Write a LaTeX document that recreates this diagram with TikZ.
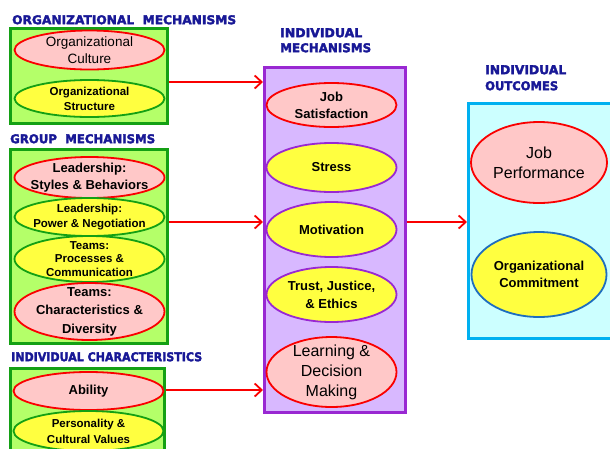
\documentclass[tikz,border=0pt]{standalone}
\usepackage{fontspec}
\setmainfont{Liberation Sans}
\newfontfamily\headfont{DejaVu Sans Bold}[FakeBold=2.5]
\usetikzlibrary{shapes.geometric,arrows.meta}
\definecolor{boxgreen}{RGB}{180,255,105}
\definecolor{edgegreen}{RGB}{20,160,20}
\definecolor{pinkfill}{RGB}{255,200,200}
\definecolor{edgered}{RGB}{250,0,0}
\definecolor{yelfill}{RGB}{255,255,64}
\definecolor{purpfill}{RGB}{216,184,255}
\definecolor{edgepurp}{RGB}{153,40,210}
\definecolor{cyanfill}{RGB}{204,255,255}
\definecolor{edgecyan}{RGB}{0,176,240}
\definecolor{edgeblue}{RGB}{30,110,190}
\definecolor{navy}{RGB}{24,24,150}
\tikzset{
  grpbox/.style={draw=edgegreen, fill=boxgreen, line width=2.6pt, inner sep=0pt, anchor=north west},
  ell/.style={ellipse, inner sep=-30pt, line width=1.8pt, align=center, text=black},
  pinkell/.style={ell, draw=edgered, fill=pinkfill},
  yelg/.style={ell, draw=edgegreen, fill=yelfill},
  yelp/.style={ell, draw=edgepurp, fill=yelfill},
  yelb/.style={ell, draw=edgeblue, fill=yelfill},
  fb/.style 2 args={font=\fontsize{#1}{#2}\selectfont\bfseries},
  fr/.style 2 args={font=\fontsize{#1}{#2}\selectfont},
  head/.style={inner sep=0pt, anchor=north west, text=navy},
  arr/.style={draw=edgered, line width=2pt, -{Straight Barb[length=7pt,width=13pt,line width=1.8pt]}},
}
\newcommand{\hd}[2]{\resizebox{#1pt}{9pt}{\headfont #2}}
\begin{document}
\begin{tikzpicture}[x=1pt,y=-1pt]
\useasboundingbox (0,0) rectangle (610,448);
\clip (0,0) rectangle (610,448);
% headings
\node[head] (hOrg) at (12,15) {\hd{224}{ORGANIZATIONAL\ \ MECHANISMS}};
\node[head] (hGrp) at (10,134) {\hd{145}{GROUP\ \ MECHANISMS}};
\node[head] (hChr) at (11,352) {\hd{191}{INDIVIDUAL CHARACTERISTICS}};
\node[head] (hMech1) at (280,28) {\hd{82}{INDIVIDUAL}};
\node[head] (hMech2) at (280,43) {\hd{91}{MECHANISMS}};
\node[head] (hOut1) at (485,65) {\hd{81}{INDIVIDUAL}};
\node[head] (hOut2) at (485,81) {\hd{73}{OUTCOMES}};
% boxes
\node[grpbox, minimum width=157pt, minimum height=95pt] (orgbox) at (9,27) {};
\node[grpbox, minimum width=157pt, minimum height=194pt] (grpbox) at (9,148) {};
\node[grpbox, minimum width=154pt, minimum height=110pt] (chrbox) at (9,367) {};
\node[draw=edgepurp, fill=purpfill, line width=2.6pt, inner sep=0pt, anchor=north west,
      minimum width=141pt, minimum height=345pt] (mechbox) at (263,66) {};
\node[draw=edgecyan, fill=cyanfill, line width=2.6pt, inner sep=0pt, anchor=north west,
      minimum width=160pt, minimum height=235pt] (outbox) at (467,102) {};
% organizational
\node[pinkell, fr={13.5}{17}, minimum width=150pt, minimum height=39pt] (culture) at (89.5,50) {Organizational\\Culture};
\node[yelg, fb={11.5}{15}, minimum width=150pt, minimum height=37pt] (structure) at (89.5,98.5) {Organizational\\Structure};
% group
\node[pinkell, fb={13}{17.5}, minimum width=150pt, minimum height=41pt] (lstyles) at (89.5,177.5) {Leadership:\\Styles \& Behaviors};
\node[yelg, fb={11.5}{15.5}, minimum width=150pt, minimum height=38pt] (lpower) at (89.5,217) {Leadership:\\Power \& Negotiation};
\node[yelg, fb={11.5}{13.5}, minimum width=150pt, minimum height=46pt] (tproc) at (89.5,259) {Teams:\\Processes \&\\Communication};
\node[pinkell, fb={13}{18.5}, minimum width=150pt, minimum height=57pt] (tchar) at (89.5,311.5) {Teams:\\Characteristics \&\\Diversity};
% individual characteristics
\node[pinkell, fb={13}{16}, minimum width=150pt, minimum height=38pt] (ability) at (88.5,391) {Ability};
\node[yelg, fb={11.5}{16}, minimum width=150pt, minimum height=40pt] (personality) at (88.5,431) {Personality \&\\Cultural Values};
% mechanisms
\node[pinkell, fb={13}{17}, minimum width=130pt, minimum height=44pt] (jobsat) at (331.5,105) {Job\\Satisfaction};
\node[yelp, fb={13}{17}, minimum width=130pt, minimum height=49pt] (stress) at (331.5,167.5) {Stress};
\node[yelp, fb={13}{17}, minimum width=130pt, minimum height=55pt] (motiv) at (331.5,229.5) {Motivation};
\node[yelp, fb={13}{18}, minimum width=130pt, minimum height=55pt] (trust) at (331.5,294.5) {Trust, Justice,\\\& Ethics};
\node[pinkell, fr={16}{20}, minimum width=130pt, minimum height=70pt] (learn) at (331.5,372) {Learning \&\\Decision\\Making};
% outcomes
\node[pinkell, fr={16}{20}, minimum width=136pt, minimum height=81pt] (jobperf) at (539,162.5) {Job\\Performance};
\node[yelb, fb={13}{17}, minimum width=135pt, minimum height=85pt] (commit) at (539,274.5) {Organizational\\Commitment};
% arrows
\coordinate (a1) at (0,82);
\coordinate (a2) at (0,222);
\coordinate (a3) at (0,390);
\draw[arr] (orgbox.east |- a1) -- (mechbox.west |- a1);
\draw[arr] (grpbox.east |- a2) -- (mechbox.west |- a2);
\draw[arr] (chrbox.east |- a3) -- (mechbox.west |- a3);
\draw[arr] (mechbox.east |- a2) -- (outbox.west |- a2);
\end{tikzpicture}
\end{document}
